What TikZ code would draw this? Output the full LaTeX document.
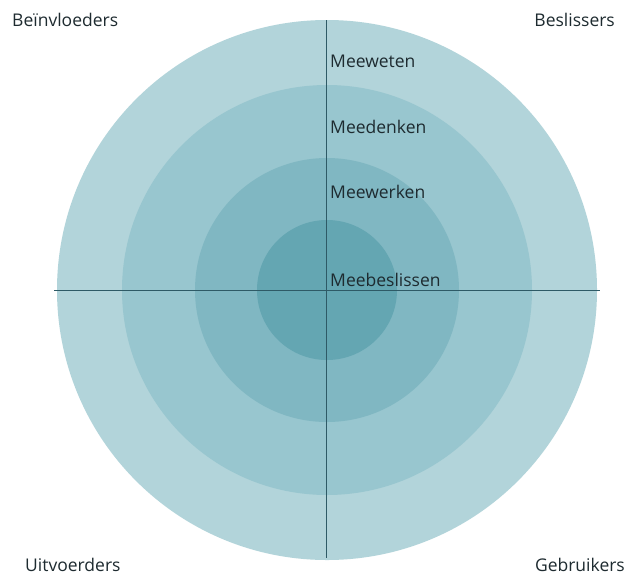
\documentclass[tikz,border=0pt]{standalone}
\usepackage{fontspec}
\setmainfont{Open Sans}
\definecolor{ring1}{HTML}{B2D4DA}
\definecolor{ring2}{HTML}{98C6CF}
\definecolor{ring3}{HTML}{80B7C2}
\definecolor{ring4}{HTML}{64A6B2}
\definecolor{axis}{HTML}{2E5A66}
\definecolor{txt}{HTML}{1E2B30}
\begin{document}
\begin{tikzpicture}[x=1pt,y=-1pt,
  lbl/.style={text=txt,font=\fontsize{17.5}{19}\selectfont,inner sep=0pt},
  ring/.style={draw=none}]
\useasboundingbox (0,0) rectangle (628,576);
\fill[white] (0,0) rectangle (628,576);
\coordinate (c) at (327,290);
\fill[ring1] (c) circle (270);
\fill[ring2] (c) circle (205);
\fill[ring3] (c) circle (132);
\fill[ring4] (c) circle (70);
\coordinate (vt) at (326,20);
\coordinate (vb) at (326,558);
\coordinate (hl) at (54,290);
\coordinate (hr) at (600,290);
\draw[axis,line width=0.9pt] (vt) -- (vb);
\draw[axis,line width=0.9pt] (hl) -- (hr);
\node[lbl,anchor=west] (m1) at (330,61) {Meeweten};
\node[lbl,anchor=west] (m2) at (330,127) {Meedenken};
\node[lbl,anchor=west] (m3) at (330,192) {Meewerken};
\node[lbl,anchor=west] (m4) at (330,280) {Meebeslissen};
\node[lbl,anchor=west] (tl) at (12,20) {Beïnvloeders};
\node[lbl,anchor=east] (tr) at (615,20) {Beslissers};
\node[lbl,anchor=west] (bl) at (25,565) {Uitvoerders};
\node[lbl,anchor=east] (br) at (625,565) {Gebruikers};
\end{tikzpicture}
\end{document}
